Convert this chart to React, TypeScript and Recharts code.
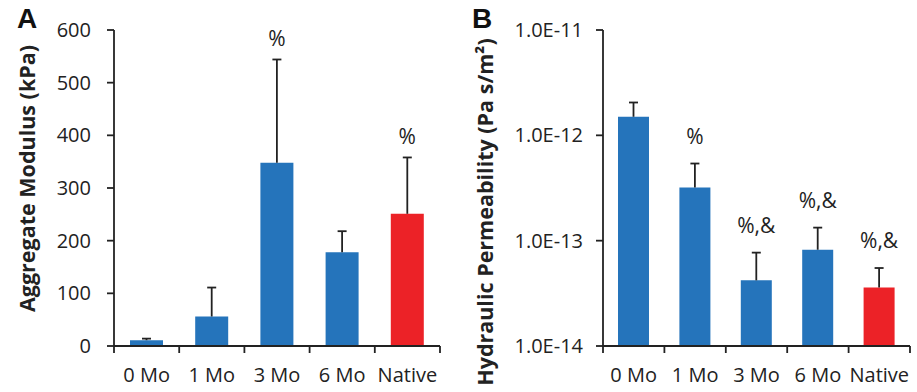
import { ComposedChart, Bar, XAxis, YAxis, Cell, LabelList } from "recharts";

const groups = ["0 Mo", "1 Mo", "3 Mo", "6 Mo", "Native"];
const barColors = ["#2574bb", "#2574bb", "#2574bb", "#2574bb", "#ec2227"];

// panel A - aggregate modulus (kPa)
const modulusMean = [11, 56, 348, 178, 251];
const modulusSd = [3, 55, 196, 40, 107];
const modulusSig = ["", "", "%", "", "%"];
const modulusTicks = [0, 100, 200, 300, 400, 500, 600];

// panel B - hydraulic permeability
const permMean = [1.5e-12, 3.2e-13, 4.2e-14, 8.2e-14, 3.6e-14];
const permSd = [5.5e-13, 2.2e-13, 3.5e-14, 5.1e-14, 1.9e-14];
const permSig = ["", "%", "%,&", "%,&", "%,&"];
const permTicks = [1e-14, 1e-13, 1e-12, 1e-11];

const INK = "#222";

// upper-only error whisker, drawn from a range bar [mean, mean+sd]
const Whisker = (props: any) => {
  const { x, y, width, height } = props;
  if (x == null || y == null) return null;
  const cx = x + width / 2;
  return (
    <g stroke={INK} strokeWidth={1.8}>
      <line x1={cx} y1={y} x2={cx} y2={y + height} />
      <line x1={cx - 4.5} y1={y} x2={cx + 4.5} y2={y} />
    </g>
  );
};

// category label in the band centre, tick marks on the band edges
const GroupTick = (props: any) => {
  const { x, y, payload, index, width } = props;
  const half = payload.offset || width / groups.length / 2;
  const last = index === groups.length - 1;
  return (
    <g>
      <line x1={x - half} y1={y} x2={x - half} y2={y + 7} stroke={INK} strokeWidth={1.8} />
      {last && <line x1={x + half} y1={y} x2={x + half} y2={y + 7} stroke={INK} strokeWidth={1.8} />}
      <text x={x} y={y + 22} dy="0.71em" textAnchor="middle" fontSize={20} fill={INK}>
        {payload.value}
      </text>
    </g>
  );
};

const AxisTitle = (props: any) => {
  const { viewBox, text, tx, dy } = props;
  const cy = viewBox.y + viewBox.height / 2 + dy;
  return (
    <text x={tx} y={cy} transform={`rotate(-90 ${tx} ${cy})`} textAnchor="middle"
      dominantBaseline="central" fontWeight="bold" fontSize={21.5} fill={INK}>
      {text}
    </text>
  );
};

interface PanelProps {
  width: number; yWidth: number; right: number; barSize: number;
  mean: number[]; sd: number[]; sig: string[];
  ticks: number[]; log?: boolean; tickMargin: number; sigOffset: number;
  title: string; titleX: number; titleDy: number;
}

function Panel(p: PanelProps) {
  const data = groups.map((g, i) => ({
    g, mean: p.mean[i], whisk: [p.mean[i], p.mean[i] + p.sd[i]], sig: p.sig[i],
  }));
  const axisStroke = { stroke: INK, strokeWidth: 1.8 };
  const tickFont = { fill: INK, fontSize: 20 };
  const title = <AxisTitle text={p.title} tx={p.titleX} dy={p.titleDy} />;
  return (
    <ComposedChart width={p.width} height={392} data={data}
      margin={{ top: 30, right: p.right, left: 0, bottom: 0 }}>
      <XAxis xAxisId="cat" dataKey="g" height={46} interval={0} axisLine={axisStroke}
        tickLine={false} tickSize={0} tickMargin={0} tick={<GroupTick />} />
      <XAxis xAxisId="err" dataKey="g" hide height={0} />
      {p.log ? (
        <YAxis width={p.yWidth} scale="log" domain={[1e-14, 1e-11]} allowDataOverflow ticks={p.ticks}
          interval={0} tickFormatter={(v) => v.toExponential(1).toUpperCase()}
          axisLine={axisStroke} tickLine={axisStroke} tickSize={7} tickMargin={p.tickMargin}
          tick={tickFont} label={title} />
      ) : (
        <YAxis width={p.yWidth} domain={[0, 600]} ticks={p.ticks} interval={0}
          axisLine={axisStroke} tickLine={axisStroke} tickSize={7} tickMargin={p.tickMargin}
          tick={tickFont} label={title} />
      )}
      <Bar xAxisId="cat" dataKey="mean" barSize={p.barSize} isAnimationActive={false}>
        {data.map((_, i) => <Cell key={i} fill={barColors[i]} />)}
      </Bar>
      <Bar xAxisId="err" dataKey="whisk" barSize={p.barSize} shape={<Whisker />}
        isAnimationActive={false}>
        <LabelList dataKey="sig" position="top" offset={p.sigOffset} fill={INK} fontSize={21} />
      </Bar>
    </ComposedChart>
  );
}

const letterStyle: React.CSSProperties = {
  position: "absolute", top: 5, fontFamily: "'Liberation Sans', Arial, sans-serif",
  fontWeight: "bold", fontSize: 28, lineHeight: "28px", color: "#111",
};

export default function App() {
  return (
    <div style={{ position: "absolute", left: 0, top: 0, width: 917, height: 392,
      background: "#fff", fontFamily: "'Open Sans', sans-serif" }}>
      <div style={{ position: "absolute", left: 0, top: 0 }}>
        <Panel width={460} yWidth={114} right={20} barSize={33}
          mean={modulusMean} sd={modulusSd} sig={modulusSig} ticks={modulusTicks}
          tickMargin={16} sigOffset={13}
          title="Aggregate Modulus (kPa)" titleX={26} titleDy={-9.5} />
      </div>
      <div style={{ position: "absolute", left: 460, top: 0 }}>
        <Panel width={457} yWidth={143} right={7} barSize={31} log
          mean={permMean} sd={permSd} sig={permSig} ticks={permTicks}
          tickMargin={13} sigOffset={20}
          title="Hydraulic Permeability (Pa s/m²)" titleX={24} titleDy={24} />
      </div>
      <div style={{ ...letterStyle, left: 17 }}>A</div>
      <div style={{ ...letterStyle, left: 472 }}>B</div>
    </div>
  );
}
